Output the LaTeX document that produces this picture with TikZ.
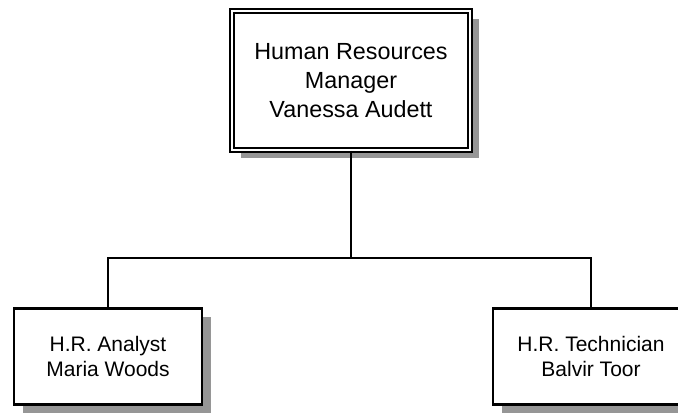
\documentclass[tikz,border=0pt]{standalone}
\usepackage{fontspec}
\setmainfont{Liberation Sans}
\usetikzlibrary{shadows}
\definecolor{shadowgray}{RGB}{150,150,150}
\begin{document}
\begin{tikzpicture}[x=0.75pt,y=-0.75pt,
  orgbox/.style={draw, line width=2pt, fill=white, align=center,
    inner sep=0pt, font=\fontsize{15.75}{18.75}\selectfont,
    drop shadow={shadow xshift=6.5pt, shadow yshift=-6pt, fill=shadowgray, opacity=1}},
  headbox/.style={orgbox, line width=1.2pt, double=white, double distance=2.2pt,
    font=\fontsize{17.5}{21.75}\selectfont},
  link/.style={line width=1.5pt}]
\useasboundingbox (0,0) rectangle (678,412);
\clip (0,0) rectangle (678,412);

% manager
\node[headbox, minimum width=178.5pt, minimum height=104.25pt] (top) at (351,80.5)
  {Human Resources\\Manager\\Vanessa Audett};

% staff
\node[orgbox, minimum width=141pt, minimum height=72pt] (left) at (108,356.5)
  {H.R. Analyst\\Maria Woods};
\node[orgbox, minimum width=147pt, minimum height=72pt] (right) at (591,356.5)
  {H.R. Technician\\Balvir Toor};

% reporting lines
\coordinate (bus) at (0,258);
\draw[link] (top.south) -- (top.south |- bus);
\draw[link] (left.north) -- (left.north |- bus) -- (right.north |- bus) -- (right.north);
\end{tikzpicture}
\end{document}
